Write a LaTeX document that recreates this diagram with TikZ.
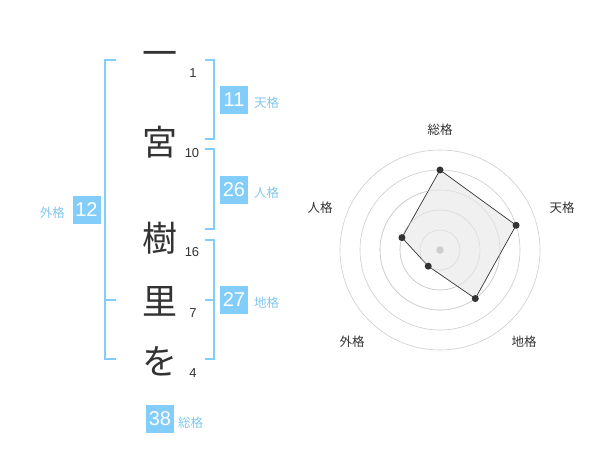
\documentclass[tikz,border=0pt]{standalone}
\usepackage{fontspec}
\setmainfont{Liberation Sans}
\newfontfamily\cjk{Noto Sans CJK JP}
\definecolor{kblue}{RGB}{130,205,250}
\definecolor{klabel}{RGB}{130,200,240}
\definecolor{kdark}{RGB}{51,51,51}
\definecolor{kring}{RGB}{205,205,205}
\definecolor{kfill}{RGB}{240,240,240}
\begin{document}
\begin{tikzpicture}[x=1pt,y=-1pt,
  kanji/.style={font=\cjk\fontsize{35}{35}\selectfont, text=kdark, inner sep=0pt},
  strokes/.style={font=\fontsize{13}{13}\selectfont, text=kdark, inner sep=0pt},
  valbox/.style={fill=kblue, text=white, minimum width=28pt, minimum height=28pt, inner sep=0pt, font=\fontsize{20}{20}\selectfont},
  vlabel/.style={text=klabel, font=\cjk\fontsize{12.5}{12.5}\selectfont, inner sep=0pt},
  bracketline/.style={draw=kblue, line width=1.8pt},
  ring/.style={draw=kring, line width=0.6pt},
  axislabel/.style={text=kdark, font=\cjk\fontsize{12.5}{12.5}\selectfont, inner sep=0pt},
  dot/.style={circle, fill=kdark, inner sep=0pt, minimum size=7pt}]
\useasboundingbox (0,0) rectangle (600,470);
\fill[white] (0,0) rectangle (600,470);

% characters
\node[kanji] (c1) at (160,59) {一};
\node[kanji] (c2) at (160,142) {宮};
\node[kanji] (c3) at (160,238) {樹};
\node[kanji] (c4) at (160,301) {里};
\node[kanji] (c5) at (160,361) {を};

% stroke counts
\node[strokes] (n1) at (193,73) {1};
\node[strokes] (n2) at (192,153) {10};
\node[strokes] (n3) at (192,252) {16};
\node[strokes] (n4) at (193,313) {7};
\node[strokes] (n5) at (193,373) {4};

% brackets
\draw[bracketline] (116,60) -- (105,60) -- (105,359) -- (116,359);
\draw[bracketline] (105,300) -- (116,300);
\draw[bracketline] (205,60) -- (214,60) -- (214,139) -- (205,139);
\draw[bracketline] (205,149) -- (214,149) -- (214,229) -- (205,229);
\draw[bracketline] (205,240) -- (214,240) -- (214,359) -- (205,359);
\draw[bracketline] (205,300) -- (214,300);

% value boxes
\node[valbox] (b1) at (234,100) {11};
\node[vlabel, anchor=west] (l1) at (254,103) {天格};
\node[valbox] (b2) at (234,190) {26};
\node[vlabel, anchor=west] (l2) at (254,193) {人格};
\node[valbox] (b3) at (234,300) {27};
\node[vlabel, anchor=west] (l3) at (254,303) {地格};
\node[valbox] (b4) at (86.5,210) {12};
\node[vlabel, anchor=east] (l4) at (65,213) {外格};
\node[valbox] (b5) at (160,419) {38};
\node[vlabel, anchor=west] (l5) at (178,423) {総格};

% radar chart
\begin{scope}[shift={(440,250)}, yscale=-1]
  \foreach \r in {20,40,60,80,100} \draw[ring] (0,0) circle (\r);
  \coordinate (p1) at (90:80);
  \coordinate (p2) at (18:80);
  \coordinate (p3) at (-54:60);
  \coordinate (p4) at (-126:20);
  \coordinate (p5) at (162:40);
  \draw[kdark, line width=0.7pt, fill=kfill] (p1) -- (p2) -- (p3) -- (p4) -- (p5) -- cycle;
  \foreach \r in {20,40,60} \draw[ring, opacity=0.6] (0,0) circle (\r);
  \fill[kring] (0,0) circle (3.8);
  \foreach \p in {p1,p2,p3,p4,p5} \node[dot] at (\p) {};
\end{scope}
\node[axislabel] (a1) at (440,130) {総格};
\node[axislabel] (a2) at (562,208) {天格};
\node[axislabel] (a3) at (320,208) {人格};
\node[axislabel] (a4) at (352,342) {外格};
\node[axislabel] (a5) at (524,342) {地格};
\end{tikzpicture}
\end{document}
